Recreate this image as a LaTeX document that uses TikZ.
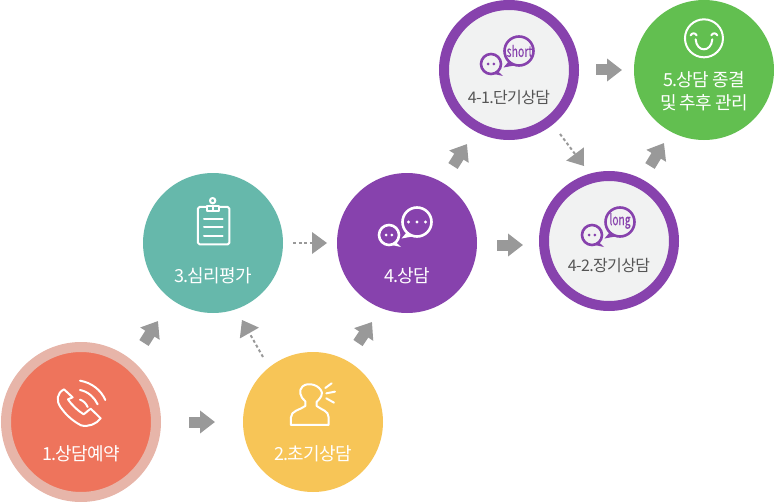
\documentclass[tikz,border=0pt]{standalone}
\usepackage{fontspec}
\usepackage{graphicx}
\usetikzlibrary{arrows.meta}
\setmainfont{Noto Sans CJK KR}
\newfontfamily\tightfont[LetterSpace=-4]{Noto Sans CJK KR}
\newfontfamily\bubfont[FakeBold=0.2]{Noto Sans CJK KR}
\definecolor{cRed}{HTML}{EE745C}
\definecolor{cRedRing}{HTML}{E7B5A9}
\definecolor{cYel}{HTML}{F7C557}
\definecolor{cTeal}{HTML}{66B8AB}
\definecolor{cPur}{HTML}{8742AD}
\definecolor{cGrn}{HTML}{62BF50}
\definecolor{cPale}{HTML}{F1F2F2}
\definecolor{cGray}{HTML}{999999}
\definecolor{cTxt}{HTML}{555555}
\tikzset{
  disc/.style={circle,minimum size=140pt,inner sep=0pt,fill=#1},
  ringdisc/.style={circle,minimum size=130pt,inner sep=0pt,fill=cPale,draw=cPur,line width=10pt},
  halo/.style={circle,minimum size=150pt,inner sep=0pt,fill=cRed,draw=cRedRing,line width=10pt},
  lab/.style={text=white,font=\tightfont\fontsize{18}{23}\selectfont,align=center,inner sep=0pt},
  sublab/.style={text=cTxt,font=\tightfont\fontsize{16}{20}\selectfont,inner sep=0pt},
  blockarrow/.style={draw=cGray,line width=11pt,-{Triangle[length=15pt,width=22pt,fill=cGray]}},
  dasharrow/.style={draw=cGray,line width=2pt,dash pattern=on 3pt off 2.5pt,-{Triangle[length=15pt,width=22pt,fill=cGray,line width=0pt]}},
  icon/.style={draw=white,line width=2pt,line cap=round,line join=round},
  pics/bubbles/.style={code={
    \draw[draw=#1,line width=2.6pt] (0,0) circle[radius=10];
    \fill[#1] (6,6.5) -- (12,12) -- (3,10) -- cycle;
    \fill[#1] (-2.8,0) circle[radius=1.5] (2.8,0) circle[radius=1.5];
    \draw[draw=#1,line width=2.6pt] (28,-13) circle[radius=14.5];
    \fill[#1] (18,-3) -- (12.5,3.5) -- (25,1.2) -- cycle;
  }}
}
\begin{document}
\begin{tikzpicture}[x=1pt,y=-1pt]
\useasboundingbox (0,0) rectangle (774,503);
% discs
\node[halo] (n1) at (81,422) {};
\node[disc=cYel] (n2) at (313,422) {};
\node[disc=cTeal] (n3) at (213,243) {};
\node[disc=cPur] (n4) at (407,243) {};
\node[ringdisc] (n41) at (509,70) {};
\node[ringdisc] (n42) at (609,241) {};
\node[disc=cGrn] (n5) at (704,70) {};
% labels
\node[lab] (t1) at (81,454) {1.상담예약};
\node[lab] (t2) at (313,454) {2.초기상담};
\node[lab] (t3) at (213,276) {3.심리평가};
\node[lab] (t4) at (407,276) {4.상담};
\node[sublab] (t41) at (509,98) {4-1.단기상담};
\node[sublab] (t42) at (609,266) {4-2.장기상담};
\node[lab] (t5) at (704,91.5) {5.상담 종결\\[-0.5pt]및 추후 관리};
% connectors
\coordinate (a1s) at (144,343); \coordinate (a1e) at (158,321);
\coordinate (a2s) at (189,422); \coordinate (a2e) at (215,422);
\coordinate (a3s) at (263,357); \coordinate (a3e) at (242,320);
\coordinate (a4s) at (358,343); \coordinate (a4e) at (372,322);
\coordinate (a5s) at (293,243); \coordinate (a5e) at (327,243);
\coordinate (a6s) at (453,166); \coordinate (a6e) at (467,144);
\coordinate (a7s) at (497,245); \coordinate (a7e) at (523,245);
\coordinate (a8s) at (596,70); \coordinate (a8e) at (622,70);
\coordinate (a9s) at (560,134); \coordinate (a9e) at (584,166);
\coordinate (a10s) at (650,166); \coordinate (a10e) at (664,143);
\draw[blockarrow] (a1s) -- (a1e);
\draw[blockarrow] (a2s) -- (a2e);
\draw[dasharrow] (a3s) -- (a3e);
\draw[blockarrow] (a4s) -- (a4e);
\draw[dasharrow] (a5s) -- (a5e);
\draw[blockarrow] (a6s) -- (a6e);
\draw[blockarrow] (a7s) -- (a7e);
\draw[blockarrow] (a8s) -- (a8e);
\draw[dasharrow] (a9s) -- (a9e);
\draw[blockarrow] (a10s) -- (a10e);
% phone icon (coordinates: 3x zoom of region at 0,310)
\begin{scope}[yshift=-310pt,x=.3333pt,y=-.3333pt]
\draw[icon] (192,238) .. controls (170,250) and (168,272) .. (182,292)
  .. controls (200,318) and (222,335) .. (243,346)
  .. controls (265,352) and (290,342) .. (302,325)
  -- (272,296) -- (251,313)
  .. controls (235,303) and (215,285) .. (204,268)
  -- (218,262) -- cycle;
\draw[icon] (240,269) .. controls (250,272) and (258,280) .. (263,291);
\draw[icon] (240,240) .. controls (265,245) and (283,262) .. (293,283);
\draw[icon] (240,212) .. controls (275,218) and (303,240) .. (316,270);
% person icon
\draw[icon] (873,345) -- (873,322) .. controls (873,302) and (900,300) .. (916,288)
  -- (916,274) .. controls (900,262) and (895,240) .. (908,229)
  .. controls (925,215) and (960,225) .. (966,248)
  .. controls (966,262) and (955,270) .. (950,276) -- (950,288)
  .. controls (965,300) and (986,302) .. (986,322) -- (986,345) -- cycle;
\draw[icon] (976,234) -- (995,220);
\draw[icon] (979,250) -- (1005,245);
\draw[icon] (979,265) -- (1002,278);
\end{scope}
% clipboard icon (3x zoom of region at 130,160)
\begin{scope}[xshift=130pt,yshift=-160pt,x=.3333pt,y=-.3333pt]
\draw[icon,rounded corners=1.5pt] (231,141) -- (204,141) -- (204,253) -- (298,253) -- (298,141) -- (268,141);
\draw[icon] (232,153) -- (232,137) -- (266,137) -- (266,153) -- cycle;
\draw[icon] (248,122) circle[radius=8];
\draw[icon] (248,137) -- (248,153);
\draw[icon] (222,178) -- (278,178);
\draw[icon] (222,202) -- (278,202);
\draw[icon] (222,227) -- (278,227);
\end{scope}
% bubbles
\pic at (389,235) {bubbles=white};
\fill[white] (417,222) circle[radius=1.7] (408.5,222) circle[radius=1.7] (425.5,222) circle[radius=1.7];
\pic at (491,64) {bubbles=cPur};
\pic at (592,235) {bubbles=cPur};
\node[inner sep=0pt,text=cPur,font=\bubfont\fontsize{15}{15}\selectfont] (sh) at (519.5,51) {\scalebox{.7}[1]{short}};
\node[inner sep=0pt,text=cPur,font=\bubfont\fontsize{15}{15}\selectfont] (lg) at (620,221) {\scalebox{.68}[1]{long}};
% smile icon (3x zoom of region at 430,0)
\begin{scope}[xshift=430pt,x=.3333pt,y=-.3333pt]
\draw[icon] (822,115) circle[radius=57];
\draw[icon] (797,118) .. controls (800,158) and (844,158) .. (847,118);
\draw[icon] (782,106) .. controls (786,98) and (796,98) .. (800,106);
\draw[icon] (844,106) .. controls (848,98) and (858,98) .. (862,106);
\end{scope}
\end{tikzpicture}
\end{document}
